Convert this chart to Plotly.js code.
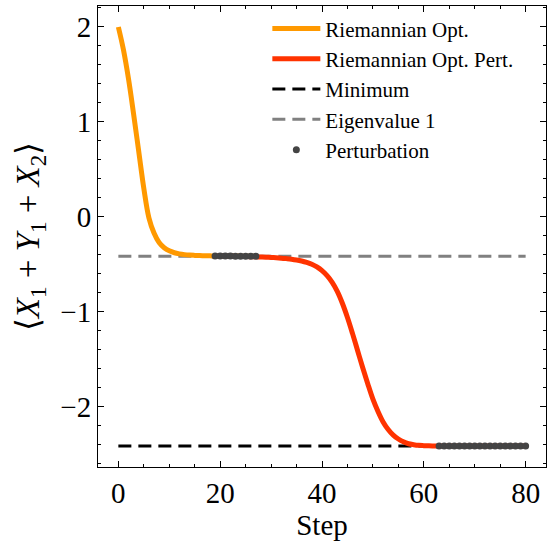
<!DOCTYPE html>
<html>
<head>
<meta charset="utf-8">
<script src="https://cdn.plot.ly/plotly-3.0.1.min.js"></script>
<style>
html,body{margin:0;padding:0;background:#fff;}
#chart{width:549px;height:541px;}
#chart text{font-family:'Liberation Serif','Times New Roman',serif !important;}
</style>
</head>
<body>
<div id="chart"></div>
<script>
// Riemannian Opt. (steps 0..27)
const optSteps = [0,1,2,3,4,5,6,7,8,9,10,11,12,13,14,15,16,17,18,19,20,21,22,23,24,25,26,27];
const optValues = [2.00,1.76,1.45,1.08,0.69,0.30,-0.01,-0.17,-0.27,-0.325,-0.358,-0.378,-0.390,-0.398,-0.403,-0.406,-0.408,-0.410,-0.411,-0.412,-0.412,-0.413,-0.413,-0.413,-0.414,-0.414,-0.414,-0.414];

// Riemannian Opt. Pert. (steps 19..80)
const pertSteps = [19,20,21,22,23,24,25,26,27,28,29,30,31,32,33,34,35,36,37,38,39,40,41,42,43,44,45,46,47,48,49,50,51,52,53,54,55,56,57,58,59,60,61,62,63,64,65,66,67,68,69,70,71,72,73,74,75,76,77,78,79,80];
const pertValues = [-0.412,-0.413,-0.414,-0.415,-0.416,-0.417,-0.418,-0.419,-0.421,-0.423,-0.425,-0.428,-0.431,-0.435,-0.440,-0.446,-0.454,-0.465,-0.480,-0.500,-0.528,-0.567,-0.620,-0.690,-0.785,-0.910,-1.06,-1.23,-1.41,-1.59,-1.76,-1.92,-2.05,-2.16,-2.24,-2.30,-2.34,-2.37,-2.39,-2.40,-2.407,-2.410,-2.412,-2.413,-2.414,-2.414,-2.414,-2.414,-2.414,-2.414,-2.414,-2.414,-2.414,-2.414,-2.414,-2.414,-2.414,-2.414,-2.414,-2.414,-2.414,-2.414];

// Reference levels
const lineSteps = [0, 80];
const minimumValue = -2.4142;
const eigenvalue1 = -0.4142;

// Perturbation points
const dotSteps = [19,20,21,22,23,24,25,26,27,63,64,65,66,67,68,69,70,71,72,73,74,75,76,77,78,79,80];
const dotValues = [-0.412,-0.413,-0.413,-0.413,-0.414,-0.414,-0.414,-0.414,-0.414,-2.414,-2.414,-2.414,-2.414,-2.414,-2.414,-2.414,-2.414,-2.414,-2.414,-2.414,-2.414,-2.414,-2.414,-2.414,-2.414,-2.414,-2.414];

const xTicks = [0,20,40,60,80];
const yTicks = [-2,-1,0,1,2];

const serif = "'Liberation Serif', serif";

const traces = [
  {x: lineSteps, y: [minimumValue, minimumValue], mode: 'lines', name: 'Minimum', legendrank: 3,
   line: {color: '#000000', width: 3, dash: '13px,7px'}},
  {x: lineSteps, y: [eigenvalue1, eigenvalue1], mode: 'lines', name: 'Eigenvalue 1', legendrank: 4,
   line: {color: '#808080', width: 3, dash: '13px,7px'}},
  {x: optSteps, y: optValues, mode: 'lines', name: 'Riemannian Opt.', legendrank: 1,
   line: {color: '#ff9900', width: 5, shape: 'spline', smoothing: 1}},
  {x: pertSteps, y: pertValues, mode: 'lines', name: 'Riemannian Opt. Pert.', legendrank: 2,
   line: {color: '#ff3300', width: 5, shape: 'spline', smoothing: 1}},
  {x: dotSteps, y: dotValues, mode: 'markers', name: 'Perturbation', legendrank: 5,
   marker: {color: '#444444', size: 7}}
];

const axisCommon = {
  showline: true, linecolor: '#000', linewidth: 1, mirror: 'allticks',
  ticks: 'inside', ticklen: 6, tickwidth: 1, tickcolor: '#000',
  showgrid: false, zeroline: false,
  tickfont: {family: serif, size: 29, color: '#000'}
};

const layout = {
  width: 549, height: 541,
  margin: {l: 98, r: 3, t: 6, b: 74},
  paper_bgcolor: '#fff', plot_bgcolor: '#fff',
  font: {family: serif, color: '#000'},
  showlegend: true,
  legend: {x: 0.378, y: 0.995, xanchor: 'left', yanchor: 'top', bgcolor: 'rgba(0,0,0,0)',
           font: {family: serif, size: 21, color: '#000'}, tracegroupgap: 0, itemwidth: 48},
  xaxis: Object.assign({}, axisCommon, {
    range: [-4, 84], tickvals: xTicks,
    minor: {ticks: 'inside', dtick: 5, tick0: 0, ticklen: 3, tickcolor: '#000', tickwidth: 1},
    title: {text: 'Step', font: {family: serif, size: 29, color: '#000'}, standoff: 4}
  }),
  yaxis: Object.assign({}, axisCommon, {
    range: [-2.635, 2.221], tickvals: yTicks,
    minor: {ticks: 'inside', dtick: 0.2, tick0: 0, ticklen: 3, tickcolor: '#000', tickwidth: 1},
    title: {text: '⟨<i>X</i><sub>1</sub> + <i>Y</i><sub>1</sub> + <i>X</i><sub>2</sub>⟩',
            font: {family: serif, size: 33, color: '#000'}, standoff: 10}
  })
};

Plotly.newPlot('chart', traces, layout, {displayModeBar: false, staticPlot: true});
</script>
</body>
</html>
